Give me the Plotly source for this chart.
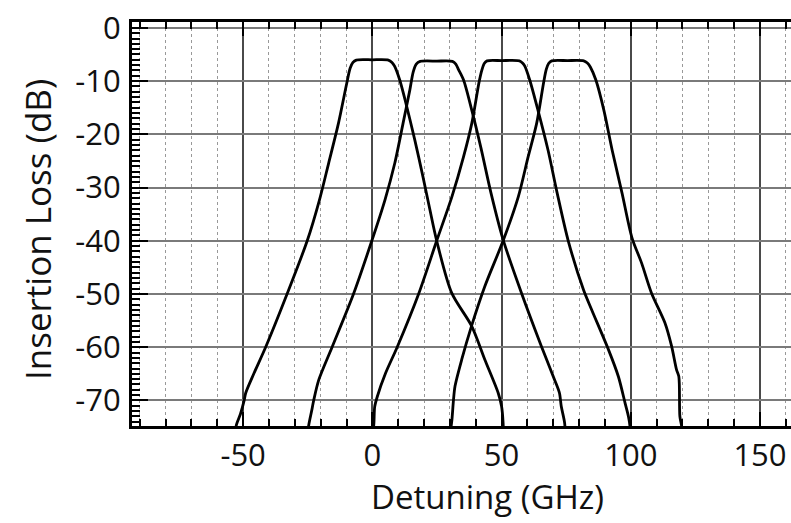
import plotly.graph_objects as go

# ---- data ----
c1_x = [-53.5, -52.6, -51.0, -49.6, -49.0, -45.8, -41.3, -33.0, -25.2, -20.5, -16.9, -13.1, -9.9, -8.6, -7.5, -6.2,
        0.0, 6.2, 7.6, 8.6, 10.6, 12.6, 16.4, 19.6, 22.2, 24.9, 30.7, 38.4, 43.5, 48.7, 50.0, 50.6, 50.8]
c1_y = [-78, -74.6, -72.5, -70.0, -68.6, -64.9, -60.0, -50.0, -40.0, -32.4, -25.4, -17.9, -10.4, -7.6, -6.5, -6.05,
        -6.0, -6.05, -6.5, -7.2, -9.8, -13.4, -21.0, -28.0, -34.0, -40.0, -49.8, -56.0, -62.3, -68.6, -71.1, -74.2, -78]

c2_x = [-25.5, -24.6, -23.5, -22.7, -20.7, -15.6, -7.3, -0.2, 4.9, 8.7, 11.9, 14.5, 15.8, 17.0, 18.5,
        25.0, 31.0, 32.3, 33.3, 35.3, 38.5, 42.0, 45.9, 50.6, 57.7, 65.4, 70.5, 72.4, 73.1, 74.4, 74.8]
c2_y = [-78, -74.6, -72.0, -70.0, -66.1, -60.0, -50.0, -40.0, -32.3, -25.4, -17.9, -11.7, -8.3, -6.8, -6.3,
        -6.25, -6.3, -6.8, -7.8, -9.8, -15.5, -22.5, -31.0, -39.8, -49.8, -59.8, -66.1, -68.6, -71.1, -74.2, -78]

c3_x = [-0.2, 0.6, 0.9, 1.9, 5.1, 9.6, 17.9, 24.9, 30.8, 35.3, 38.5, 41.3, 42.4, 43.3, 44.4,
        50.0, 56.9, 58.1, 59.0, 60.9, 64.1, 68.0, 71.5, 75.8, 81.7, 84.9, 91.4, 95.2, 97.8, 99.1, 99.7, 100.0]
c3_y = [-78, -74.3, -71.2, -69.3, -64.9, -60.0, -50.0, -40.0, -31.7, -24.2, -17.9, -10.2, -7.9, -6.7, -6.2,
        -6.15, -6.2, -6.6, -7.2, -9.8, -15.5, -23.0, -31.0, -40.0, -49.2, -53.0, -60.5, -65.5, -70.5, -73.0, -74.9, -78]

c4_x = [29.8, 30.2, 30.8, 31.4, 32.0, 34.6, 38.4, 43.5, 50.6, 56.5, 60.3, 63.6, 66.3, 67.3, 68.2, 69.4,
        75.5, 81.8, 83.2, 84.4, 86.5, 89.6, 92.8, 96.6, 100.5, 104.2, 108.0, 113.2, 115.8, 117.7, 118.6, 119.0, 119.7, 120.0]
c4_y = [-78, -76, -73.6, -69.9, -67.3, -62.3, -56.0, -48.6, -40.0, -31.7, -24.2, -17.9, -10.2, -7.8, -6.7, -6.2,
        -6.15, -6.2, -6.6, -7.4, -9.8, -15.5, -23.0, -31.0, -39.5, -44.2, -49.8, -55.4, -59.8, -64.2, -65.5, -73.0, -74.9, -78]

x_tick_vals = [-50, 0, 50, 100, 150]
x_tick_text = ["-50", "0", "50", "100", "150"]
y_tick_vals = [0, -10, -20, -30, -40, -50, -60, -70]
y_tick_text = ["0", "-10", "-20", "-30", "-40", "-50", "-60", "-70"]

x_title = "Detuning (GHz)"
y_title = "Insertion Loss (dB)"

FONT = "Open Sans"
X_RANGE = [-93, 162]
Y_RANGE = [-74.8, 1.1]

fig = go.Figure()
for xs, ys in [(c1_x, c1_y), (c2_x, c2_y), (c3_x, c3_y), (c4_x, c4_y)]:
    fig.add_trace(go.Scatter(x=xs, y=ys, mode="lines",
                             line=dict(color="black", width=2.8, shape="spline", smoothing=0.8),
                             showlegend=False, hoverinfo="skip"))

fig.update_layout(
    width=791, height=523,
    margin=dict(l=132, r=0, t=22, b=97),
    paper_bgcolor="white", plot_bgcolor="white",
    font=dict(family=FONT, size=31, color="#111"),
    annotations=[
        dict(text=x_title, xref="paper", yref="paper", x=(488 - 132) / 659, y=(426 - 496) / 404,
             xanchor="center", yanchor="middle", showarrow=False, font=dict(family=FONT, size=33, color="#111")),
        dict(text=y_title, xref="paper", yref="paper", x=(37 - 132) / 659, y=(426 - 230) / 404,
             xanchor="center", yanchor="middle", textangle=-90, showarrow=False,
             font=dict(family=FONT, size=35, color="#111")),
    ],
    xaxis=dict(
        range=X_RANGE, tickmode="array", tickvals=x_tick_vals, ticktext=x_tick_text,
        ticks="inside", ticklen=14, tickwidth=2, tickcolor="black",
        showline=True, linecolor="black", linewidth=3, mirror="ticks",
        showgrid=True, gridcolor="#4a4a4a", gridwidth=1.8,
        zeroline=False, ticklabelstandoff=0,
        minor=dict(tickmode="linear", tick0=0, dtick=10, ticks="inside", ticklen=7, tickwidth=1.5,
                   tickcolor="black", showgrid=True, gridcolor="#999999", gridwidth=1, griddash="dot"),
    ),
    yaxis=dict(
        range=Y_RANGE, tickmode="array", tickvals=y_tick_vals, ticktext=y_tick_text,
        ticks="inside", ticklen=16, tickwidth=2, tickcolor="black",
        showline=True, linecolor="black", linewidth=3, mirror=False,
        showgrid=True, gridcolor="#7a7a7a", gridwidth=1.8,
        zeroline=False, ticklabelstandoff=2,
        minor=dict(tickmode="linear", tick0=0, dtick=1, ticks="inside", ticklen=8, tickwidth=1.5,
                   tickcolor="black", showgrid=False),
    ),
    yaxis2=dict(overlaying="y", side="right", anchor="x", range=Y_RANGE, tickmode="array",
                tickvals=y_tick_vals, showticklabels=False, ticks="inside", ticklen=10, tickwidth=2,
                tickcolor="black", showgrid=False, zeroline=False, showline=False),
)

fig.write_html("out.html")
